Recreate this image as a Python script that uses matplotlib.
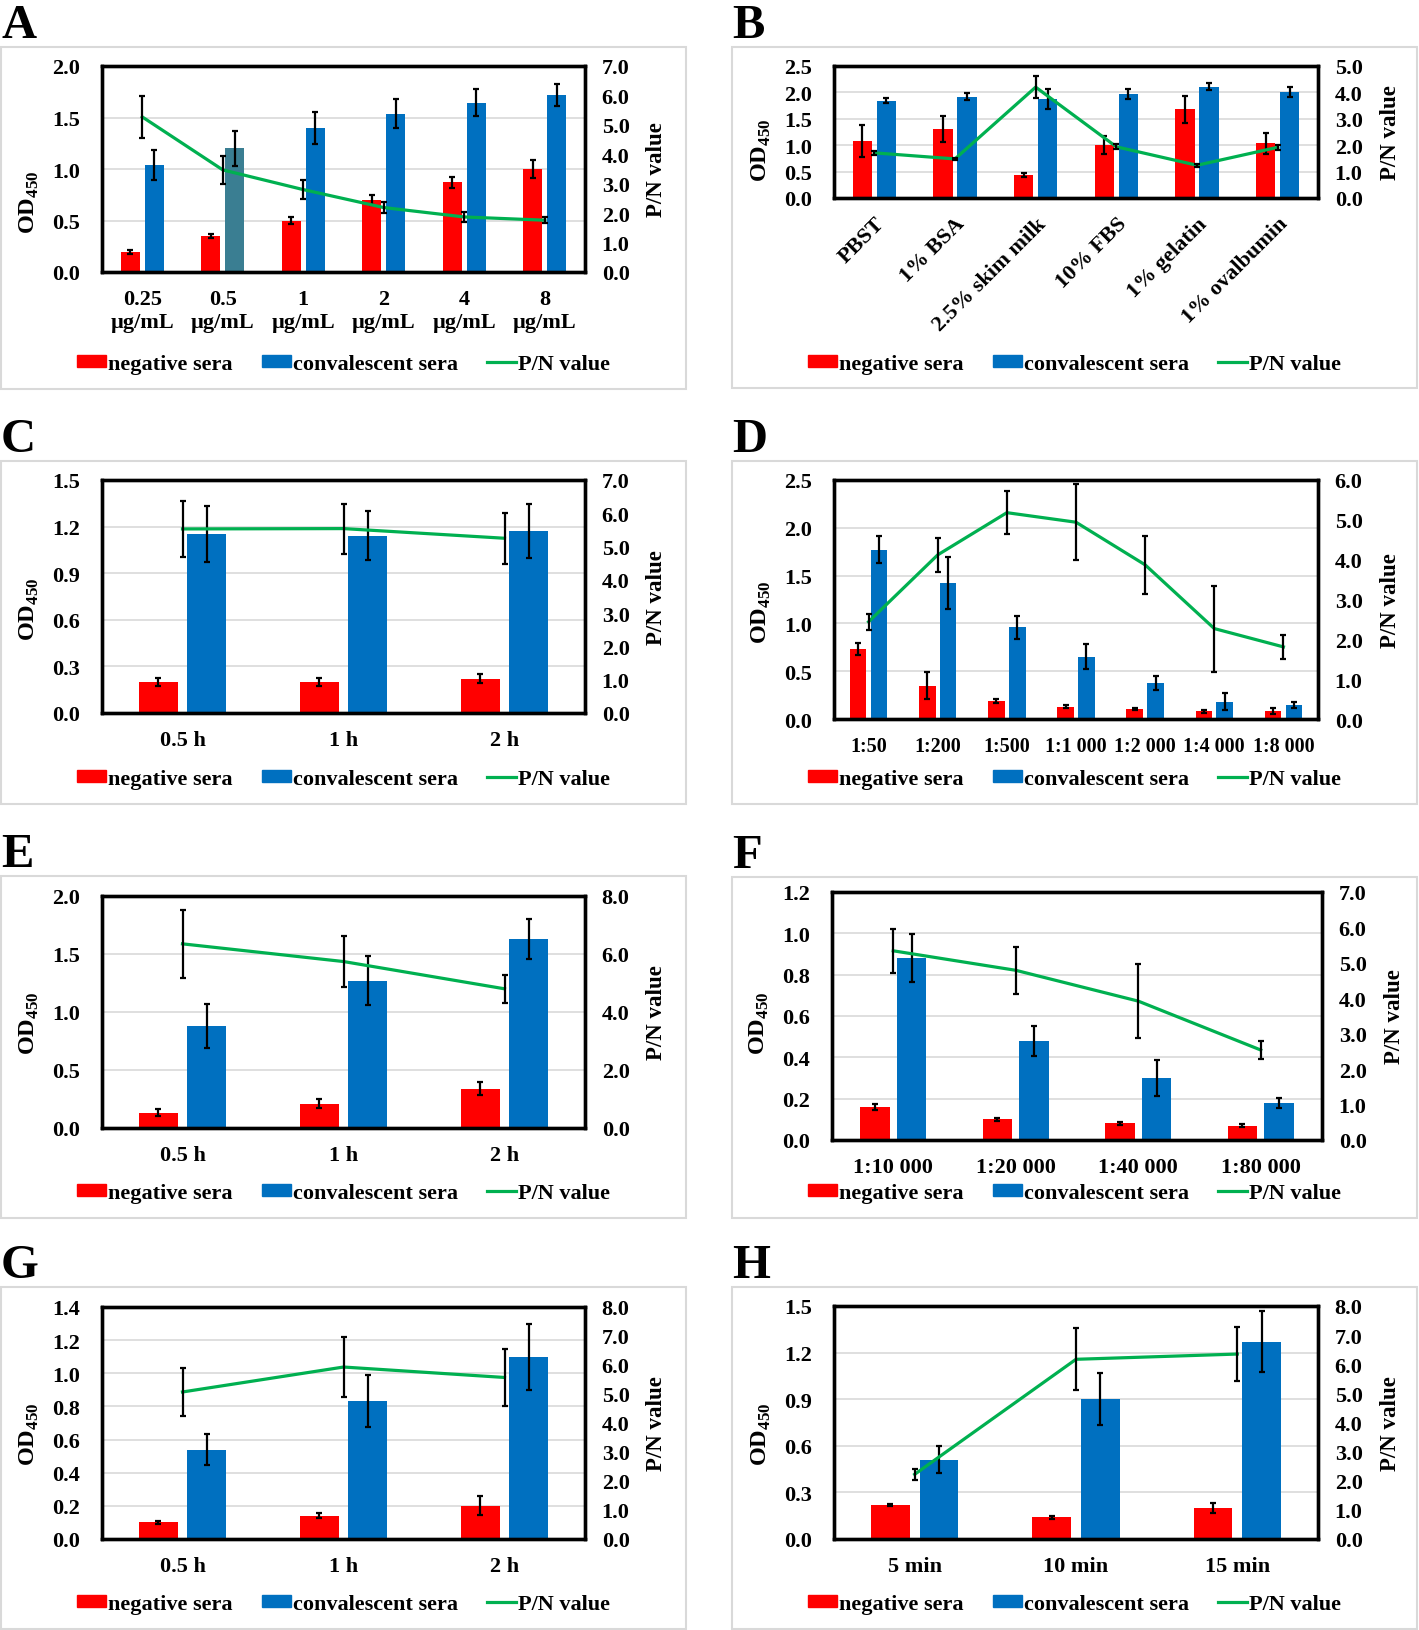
import numpy as np
import matplotlib
matplotlib.use('Agg')
from matplotlib import pyplot as plt
from matplotlib.patches import Rectangle, Patch
from matplotlib.lines import Line2D

plt.rcParams['font.family'] = ['Liberation Serif', 'DejaVu Serif']
plt.rcParams['font.weight'] = 'bold'
plt.rcParams['mathtext.fontset'] = 'custom'
plt.rcParams['mathtext.bf'] = 'Liberation Serif:bold'
plt.rcParams['mathtext.rm'] = 'Liberation Serif:bold'

RED = '#FF0000'
BLUE = '#0070C0'
TEAL = '#3A7E92'
GREEN = '#00B050'
W, H = 1419, 1631

# A: coating concentration
a_labels = ['0.25\nµg/mL', '0.5\nµg/mL', '1\nµg/mL', '2\nµg/mL', '4\nµg/mL', '8\nµg/mL']
a_neg = [0.19, 0.35, 0.50, 0.70, 0.87, 1.00]
a_neg_err = [0.02, 0.02, 0.03, 0.045, 0.05, 0.085]
a_pos = [1.04, 1.20, 1.395, 1.537, 1.644, 1.72]
a_pos_err = [0.145, 0.17, 0.157, 0.142, 0.133, 0.11]
a_pn = [5.27, 3.47, 2.80, 2.19, 1.87, 1.76]
a_pn_err = [0.72, 0.48, 0.32, 0.20, 0.17, 0.11]

# B: blocking buffer
b_labels = ['PBST', '1% BSA', '2.5% skim milk', '10% FBS', '1% gelatin', '1% ovalbumin']
b_neg = [1.08, 1.31, 0.44, 1.01, 1.68, 1.04]
b_neg_err = [0.30, 0.24, 0.04, 0.17, 0.26, 0.20]
b_pos = [1.84, 1.92, 1.87, 1.97, 2.11, 2.01]
b_pos_err = [0.05, 0.06, 0.19, 0.10, 0.065, 0.10]
b_pn = [1.71, 1.48, 4.20, 1.94, 1.24, 1.92]
b_pn_err = [0.08, 0.05, 0.42, 0.10, 0.05, 0.10]

# C: blocking time
c_labels = ['0.5 h', '1 h', '2 h']
c_neg = [0.20, 0.20, 0.22]
c_neg_err = [0.023, 0.028, 0.03]
c_pos = [1.15, 1.14, 1.17]
c_pos_err = [0.18, 0.158, 0.175]
c_pn = [5.53, 5.54, 5.25]
c_pn_err = [0.84, 0.75, 0.77]

# D: serum dilution
d_labels = ['1:50', '1:200', '1:500', '1:1 000', '1:2 000', '1:4 000', '1:8 000']
d_neg = [0.73, 0.35, 0.19, 0.13, 0.10, 0.08, 0.08]
d_neg_err = [0.06, 0.145, 0.02, 0.015, 0.01, 0.015, 0.03]
d_pos = [1.77, 1.42, 0.96, 0.65, 0.38, 0.18, 0.15]
d_pos_err = [0.14, 0.27, 0.12, 0.13, 0.075, 0.09, 0.033]
d_pn = [2.44, 4.12, 5.18, 4.94, 3.87, 2.27, 1.81]
d_pn_err = [0.20, 0.42, 0.54, 0.96, 0.73, 1.08, 0.31]

# E: serum incubation time
e_labels = ['0.5 h', '1 h', '2 h']
e_neg = [0.13, 0.21, 0.34]
e_neg_err = [0.03, 0.037, 0.055]
e_pos = [0.88, 1.27, 1.63]
e_pos_err = [0.19, 0.21, 0.17]
e_pn = [6.35, 5.74, 4.80]
e_pn_err = [1.18, 0.89, 0.49]

# F: conjugate dilution
f_labels = ['1:10 000', '1:20 000', '1:40 000', '1:80 000']
f_neg = [0.16, 0.10, 0.08, 0.07]
f_neg_err = [0.016, 0.007, 0.008, 0.007]
f_pos = [0.88, 0.48, 0.30, 0.18]
f_pos_err = [0.116, 0.072, 0.089, 0.024]
f_pn = [5.34, 4.79, 3.92, 2.54]
f_pn_err = [0.62, 0.66, 1.04, 0.25]

# G: conjugate incubation time
g_labels = ['0.5 h', '1 h', '2 h']
g_neg = [0.10, 0.14, 0.20]
g_neg_err = [0.01, 0.014, 0.057]
g_pos = [0.54, 0.83, 1.10]
g_pos_err = [0.096, 0.157, 0.198]
g_pn = [5.07, 5.93, 5.57]
g_pn_err = [0.82, 1.04, 0.98]

# H: substrate reaction time
h_labels = ['5 min', '10 min', '15 min']
h_neg = [0.22, 0.14, 0.20]
h_neg_err = [0.006, 0.01, 0.033]
h_pos = [0.51, 0.90, 1.27]
h_pos_err = [0.087, 0.167, 0.195]
h_pn = [2.22, 6.17, 6.35]
h_pn_err = [0.20, 1.07, 0.93]


def draw_panel(fig, letter, box, frame, legend_y, od_y, data, ylim, y2lim,
               rot=False, pos_colors=None, xsize=16):
    labels, neg, neg_err, pos, pos_err, pn, pn_err = data
    bl, bt, br, bb = box
    fig.patches.append(Rectangle((bl / W, 1 - bb / H), (br - bl) / W, (bb - bt) / H,
                                 transform=fig.transFigure, fill=False,
                                 edgecolor='#D9D9D9', lw=1.5))
    fig.text(bl / W, 1 - (bt - 44) / H, letter, fontsize=35, weight='bold', va='top', ha='left')

    fl, ft, fr, fb = frame
    fw = fr - fl
    ax = fig.add_axes([fl / W, 1 - fb / H, fw / W, (fb - ft) / H])
    x = np.arange(len(labels))
    ax.bar(x - 0.15, neg, 0.24, color=RED, zorder=2)
    ax.errorbar(x - 0.15, neg, yerr=neg_err, fmt='none', ecolor='black',
                elinewidth=1.6, capsize=2.2, capthick=1.6, zorder=3)
    ax.bar(x + 0.15, pos, 0.24, color=pos_colors if pos_colors else BLUE, zorder=2)
    ax.errorbar(x + 0.15, pos, yerr=pos_err, fmt='none', ecolor='black',
                elinewidth=1.6, capsize=2.2, capthick=1.6, zorder=3)
    ax.set_xlim(-0.5, len(labels) - 0.5)
    ax.set_ylim(0, ylim[0])
    ticks = np.arange(0, ylim[0] + 1e-6, ylim[1])
    ax.set_yticks(ticks)
    ax.set_yticklabels(['%.1f' % v for v in ticks])
    ax.yaxis.grid(True, color='#D9D9D9', lw=1.2)
    ax.set_axisbelow(True)
    ax.set_xticks(x)
    ax.set_xticklabels(labels)
    ax.tick_params(axis='y', length=0, labelsize=16, pad=16)
    ax.tick_params(axis='x', length=0, labelsize=xsize, pad=12)
    if rot:
        ax.tick_params(axis='x', pad=11)
        plt.setp(ax.get_xticklabels(), rotation=45, ha='right', rotation_mode='anchor')
    for s in ax.spines.values():
        s.set_linewidth(2.4)
    ax.set_ylabel(r'$\mathbf{OD}_{\mathbf{450}}$', fontsize=17.5, va='center', ha='center')
    ax.yaxis.set_label_coords(-73 / fw, od_y)

    ax2 = ax.twinx()
    ax2.plot(x, pn, color=GREEN, lw=2.3, zorder=2)
    ax2.errorbar(x, pn, yerr=pn_err, fmt='none', ecolor='black',
                 elinewidth=1.6, capsize=2.2, capthick=1.6, zorder=3)
    ax2.set_ylim(0, y2lim[0])
    ticks2 = np.arange(0, y2lim[0] + 1e-6, y2lim[1])
    ax2.set_yticks(ticks2)
    ax2.set_yticklabels(['%.1f' % v for v in ticks2])
    ax2.tick_params(axis='y', length=0, labelsize=16, pad=12)
    for s in ax2.spines.values():
        s.set_linewidth(2.4)
    ax2.set_ylabel('P/N value', fontsize=16.5, weight='bold', va='center', ha='center')
    ax2.yaxis.set_label_coords(1 + 72 / fw, 0.5)

    handles = [Patch(color=RED), Patch(color=BLUE), Line2D([], [], color=GREEN, lw=2.3)]
    fig.legend(handles, ['negative sera', 'convalescent sera', 'P/N value'],
               loc='center', bbox_to_anchor=((bl + br) / 2 / W, 1 - legend_y / H),
               ncol=3, frameon=False, prop={'family': 'Liberation Serif', 'weight': 'bold', 'size': 16},
               handlelength=1.3, handleheight=0.5, handletextpad=0.1, columnspacing=1.3,
               borderpad=0, borderaxespad=0)


fig = plt.figure(figsize=(W / 100, H / 100), dpi=100)

draw_panel(fig, 'A', (1, 48, 686, 390), (102, 67, 585, 273), 365, 0.345,
           (a_labels, a_neg, a_neg_err, a_pos, a_pos_err, a_pn, a_pn_err), (2.0, 0.5), (7.0, 1.0),
           pos_colors=[BLUE, TEAL, BLUE, BLUE, BLUE, BLUE])
draw_panel(fig, 'B', (732, 48, 1417, 389), (834, 67, 1318, 199), 365, 0.37,
           (b_labels, b_neg, b_neg_err, b_pos, b_pos_err, b_pn, b_pn_err), (2.5, 0.5), (5.0, 1.0), rot=True)
draw_panel(fig, 'C', (1, 462, 686, 805), (102, 481, 585, 714), 780, 0.45,
           (c_labels, c_neg, c_neg_err, c_pos, c_pos_err, c_pn, c_pn_err), (1.5, 0.3), (7.0, 1.0))
draw_panel(fig, 'D', (732, 462, 1417, 805), (834, 481, 1318, 720), 780, 0.45,
           (d_labels, d_neg, d_neg_err, d_pos, d_pos_err, d_pn, d_pn_err), (2.5, 0.5), (6.0, 1.0),
           xsize=14.5)
draw_panel(fig, 'E', (1, 877, 686, 1219), (102, 897, 585, 1129), 1194, 0.457,
           (e_labels, e_neg, e_neg_err, e_pos, e_pos_err, e_pn, e_pn_err), (2.0, 0.5), (8.0, 2.0))
draw_panel(fig, 'F', (732, 878, 1417, 1219), (832, 893, 1322, 1141), 1194, 0.476,
           (f_labels, f_neg, f_neg_err, f_pos, f_pos_err, f_pn, f_pn_err), (1.2, 0.2), (7.0, 1.0))
draw_panel(fig, 'G', (1, 1288, 686, 1630), (102, 1308, 585, 1540), 1605, 0.457,
           (g_labels, g_neg, g_neg_err, g_pos, g_pos_err, g_pn, g_pn_err), (1.4, 0.2), (8.0, 1.0))
draw_panel(fig, 'H', (732, 1288, 1417, 1630), (834, 1307, 1318, 1540), 1605, 0.455,
           (h_labels, h_neg, h_neg_err, h_pos, h_pos_err, h_pn, h_pn_err), (1.5, 0.3), (8.0, 1.0))

plt.savefig('out.png', dpi=100)
